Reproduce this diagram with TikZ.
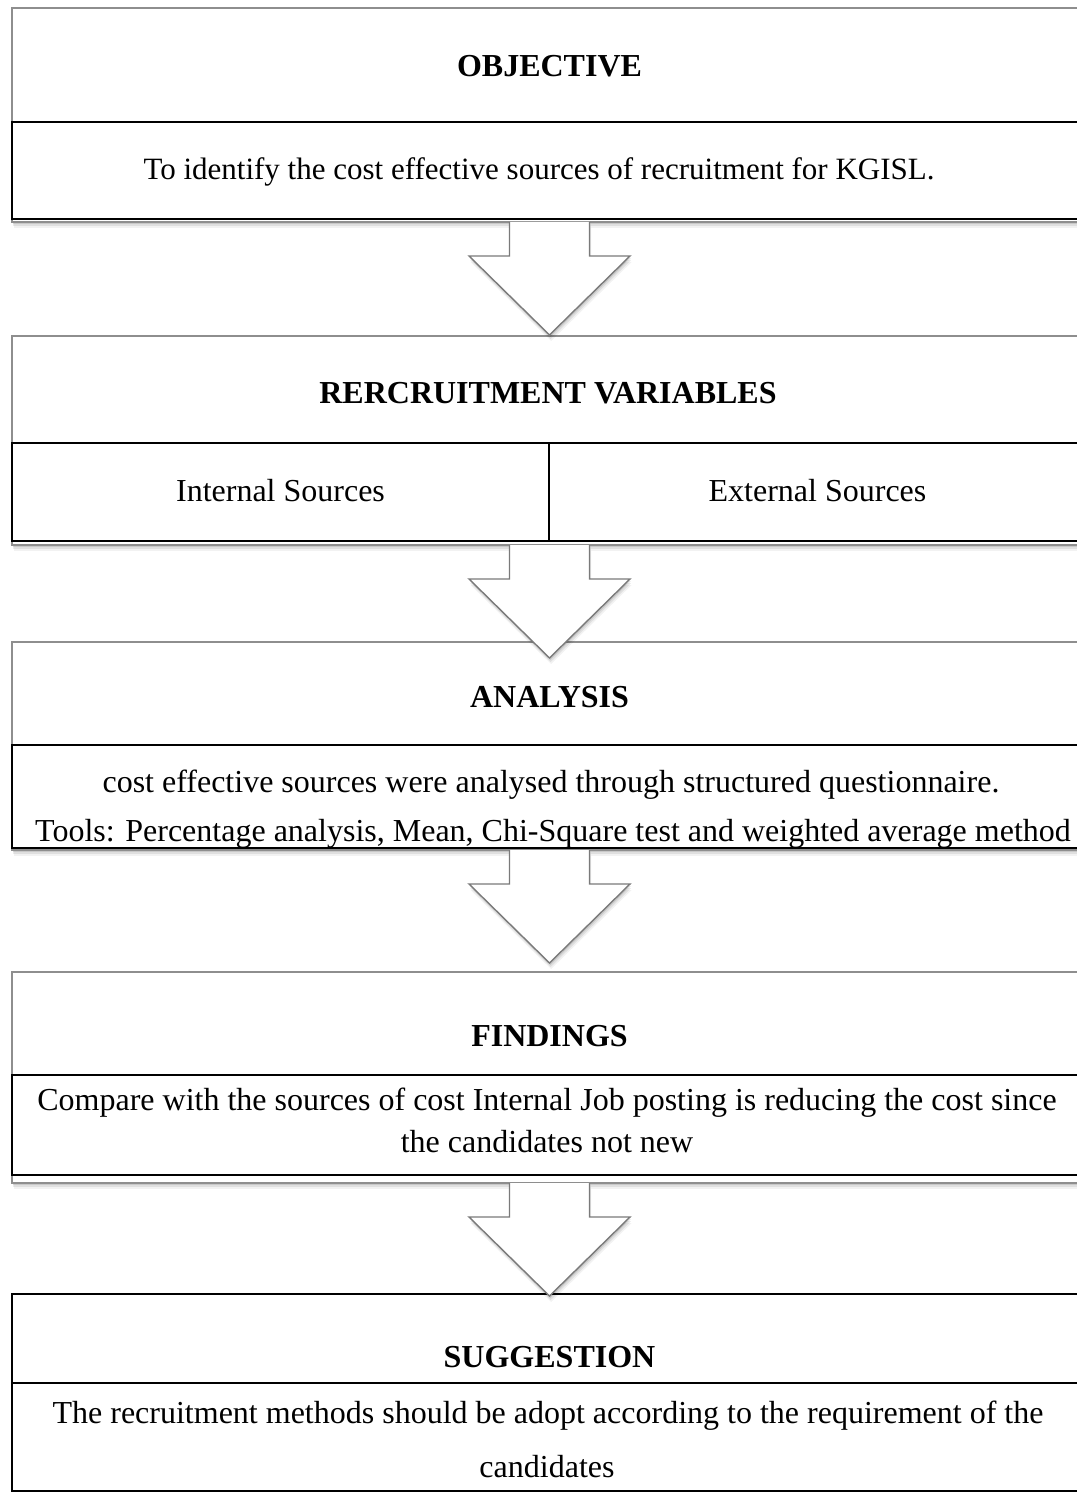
\documentclass[tikz,border=0pt]{standalone}
\usepackage{fontspec}
\setmainfont{Liberation Serif}
\usetikzlibrary{shadows,calc}

\definecolor{framegray}{HTML}{8E8E8E}
\definecolor{arrowgray}{HTML}{7A7A7A}

\tikzset{
  softshadow/.style={
    general shadow={fill=black, opacity=.10, shadow xshift=0.4pt, shadow yshift=-1pt},
    general shadow={fill=black, opacity=.08, shadow xshift=0.6pt, shadow yshift=-2pt},
    general shadow={fill=black, opacity=.05, shadow xshift=0.8pt, shadow yshift=-3pt}},
  frame/.style={draw=framegray, line width=0.7pt, fill=white, inner sep=0pt,
    outer sep=0pt, anchor=north west, minimum width=537.5pt, softshadow},
  cell/.style={draw=black, line width=1pt, inner sep=0pt, outer sep=0pt,
    anchor=north west},
  heading/.style={font=\fontsize{16}{19}\selectfont\bfseries, anchor=base, inner sep=0pt},
  body/.style={font=\fontsize{16}{19}\selectfont, anchor=base, inner sep=0pt},
  blockarrow/.style={draw=arrowgray, line width=0.7pt, fill=white,
    line join=miter, softshadow},
}

\begin{document}
\begin{tikzpicture}[x=0.5pt, y=-0.5pt]
  \useasboundingbox (0,0) rectangle (1076,1492);

  % Objective
  \node[frame, minimum height=107pt] (obj) at (12,8) {};
  \node[cell, minimum width=537.5pt, minimum height=48.5pt] (objc) at (12,122) {};
  \node[heading] (objt) at (549.5,77) {OBJECTIVE};
  \node[body, font=\fontsize{15.5}{19}\selectfont] (objb) at (539,180) {To identify the cost effective sources of recruitment for KGISL.};

  % Recruitment variables
  \node[frame, minimum height=104.5pt] (var) at (12,336) {};
  \node[cell, minimum width=268.5pt, minimum height=49pt] (varl) at (12,443) {};
  \node[cell, minimum width=269pt, minimum height=49pt] (varr) at (549,443) {};
  \node[heading] (vart) at (548,403) {RERCRUITMENT VARIABLES};
  \node[body] (varlt) at (280.5,501) {Internal Sources};
  \node[body] (varrt) at (817.5,501) {External Sources};

  % Analysis
  \node[frame, minimum height=104pt] (ana) at (12,642) {};
  \node[cell, minimum width=537.5pt, minimum height=51.5pt] (anac) at (12,745) {};
  \node[heading] (anat) at (549.5,707) {ANALYSIS};
  \node[body] (anab1) at (551,792) {cost effective sources were analysed through structured questionnaire.};
  \node[body] (anab2) at (553,841) {Tools: Percentage analysis, Mean, Chi-Square test and weighted average method};

  % Findings
  \node[frame, minimum height=105.5pt] (fin) at (12,972) {};
  \node[cell, minimum width=537.5pt, minimum height=50pt] (finc) at (12,1075) {};
  \node[heading] (fint) at (549.5,1046) {FINDINGS};
  \node[body] (finb1) at (547,1110) {Compare with the sources of cost Internal Job posting is reducing the cost since};
  \node[body] (finb2) at (547,1152) {the candidates not new};

  % Suggestion
  \node[frame, draw=black, line width=1.2pt, minimum height=98.5pt] (sug) at (12,1294) {};
  \node[cell, minimum width=537.5pt, minimum height=54pt] (sugc) at (12,1383) {};
  \node[heading] (sugt) at (549.5,1367) {SUGGESTION};
  \node[body] (sugb1) at (548,1423) {The recruitment methods should be adopt according to the requirement of the};
  \node[body] (sugb2) at (547,1477) {candidates};

  % Block arrows leading from each stage to the next
  \foreach \f in {obj, var, ana, fin} {
    \draw[blockarrow] ($(\f.south)+(-40,0)$) -- ++(0,34) -- ++(-40.5,0)
      -- ++(80.5,79) -- ++(80.5,-79) -- ++(-40.5,0) -- ++(0,-34);
  }
\end{tikzpicture}
\end{document}
